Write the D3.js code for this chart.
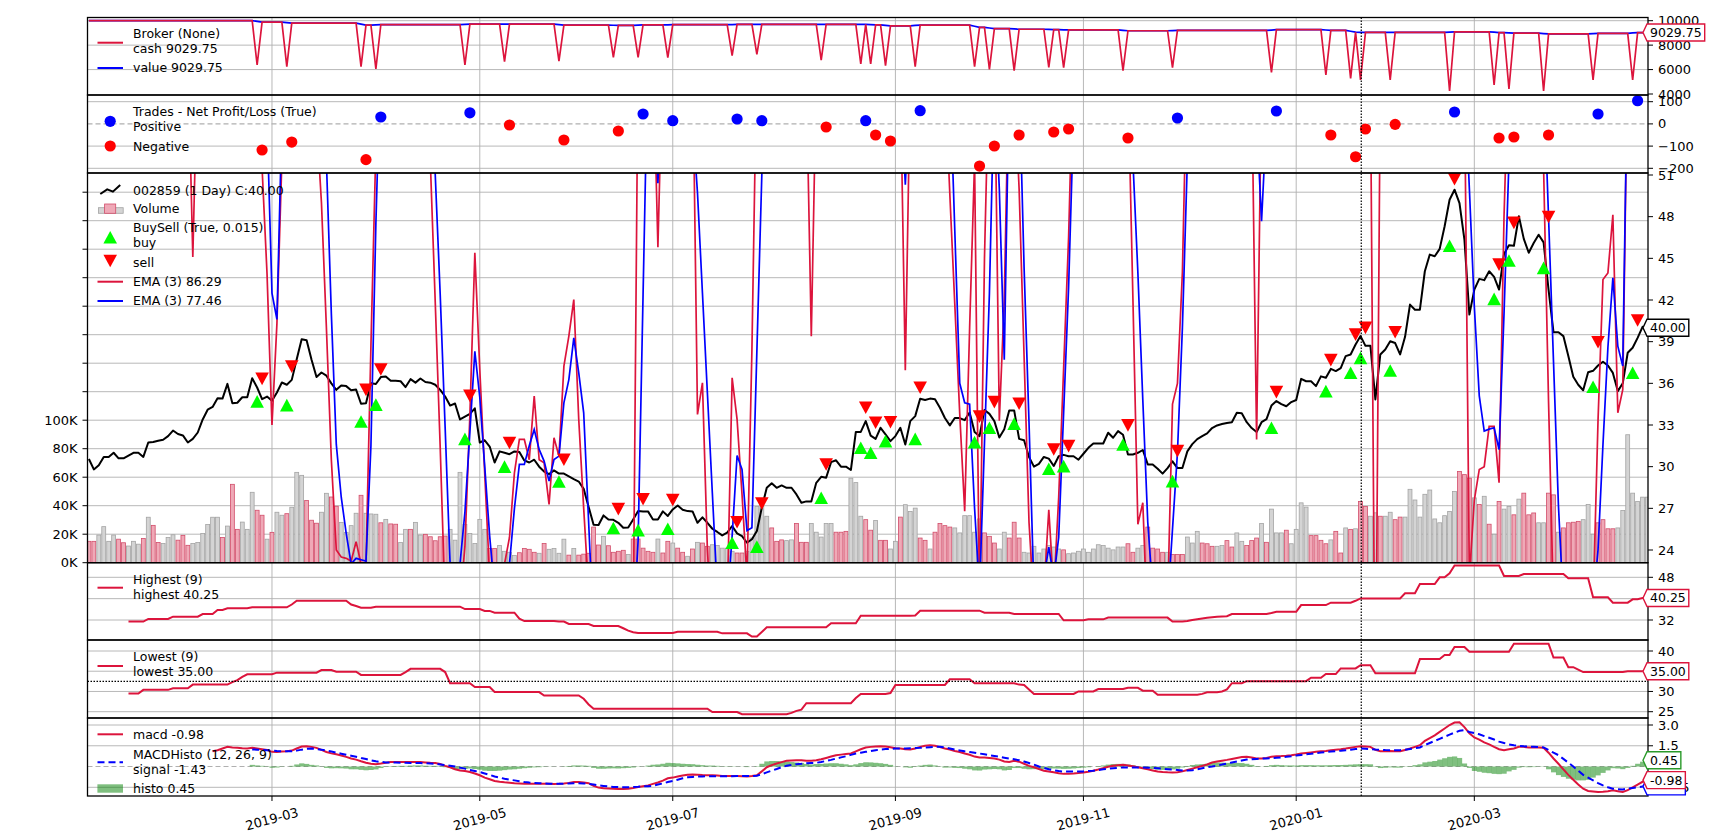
<!DOCTYPE html>
<html>
<head>
<meta charset="utf-8">
<script src="https://cdn.jsdelivr.net/npm/d3@7"></script>
<style>
html,body{margin:0;padding:0;background:#fff;}
svg{display:block;}
text{font-family:"DejaVu Sans",sans-serif;fill:#000;}
</style>
</head>
<body>
<svg id="chart" width="1734" height="838"></svg>
<script>
// ---------------- DATA ----------------
const dateTickIdx = [37,79,118,163,201,244,280];
const dateTickLabel = ['2019-03','2019-05','2019-07','2019-09','2019-11','2020-01','2020-03'];

const closePrice = [
30.55,29.8,30.1,30.7,30.7,31.0,30.6,30.6,30.8,31.0,
31.0,30.7,31.74,31.77,31.86,31.94,32.2,32.6,32.35,32.25,
31.74,32.0,32.46,33.4,34.1,34.3,34.93,34.9,35.96,34.57,
34.6,35.0,35.0,36.37,35.7,34.86,35.05,34.74,35.34,36.06,
35.9,36.25,37.74,39.18,39.1,37.7,36.45,36.78,36.55,36.0,
35.53,35.85,35.8,35.5,35.55,34.53,34.57,36.0,35.95,36.45,
36.5,36.18,36.18,36.15,35.73,36.3,36.05,36.35,36.1,36.05,
35.9,35.53,35.05,34.4,34.55,33.4,33.6,33.8,34.2,31.74,
31.9,31.45,30.3,31.1,31.0,30.9,31.1,31.05,30.45,30.3,
30.5,30.0,29.65,29.46,29.73,29.5,29.5,29.3,29.1,28.93,
28.4,27.1,25.82,25.8,26.49,26.2,26.17,25.96,25.6,25.62,
26.2,26.8,26.78,26.78,26.2,26.2,26.78,26.45,26.92,27.21,
26.9,26.8,26.78,25.96,26.35,25.96,25.53,25.3,25.05,25.25,
25.73,25.2,25.0,24.52,24.77,25.37,27.05,28.48,28.8,28.48,
28.65,28.48,28.48,28.0,27.4,27.5,27.5,28.84,29.27,29.2,
30.33,30.46,30.0,30.0,29.76,32.5,32.5,33.28,32.24,32.0,
32.8,32.33,31.84,32.2,32.8,31.6,33.28,33.64,34.89,34.8,
34.9,34.85,34.24,33.5,32.97,33.5,33.5,33.35,33.9,32.5,
32.2,34.08,33.8,33.28,32.1,32.7,34.05,34.05,32.0,31.9,
30.7,30.0,30.2,30.7,30.58,30.05,30.75,30.85,30.75,30.75,
30.5,30.93,31.36,31.67,31.67,31.67,32.44,32.08,32.56,32.3,
30.88,30.88,31.0,31.2,30.16,30.16,29.85,29.5,29.9,30.38,
29.9,29.9,31.1,31.62,31.98,32.2,32.4,32.78,32.97,33.07,
33.15,33.2,33.88,33.85,33.2,32.78,32.5,33.2,33.42,34.4,
34.72,34.5,34.35,34.65,34.8,36.32,36.15,36.15,35.8,36.5,
36.4,37.04,36.88,37.1,37.96,38.08,38.8,39.4,38.7,38.7,
34.84,38.08,38.44,39.03,38.9,38.08,39.35,41.67,41.3,41.3,
44.07,45.27,45.15,45.68,47.31,49.22,49.94,48.98,46.35,40.95,
42.75,43.52,43.43,44.07,43.67,42.75,45.32,45.94,45.9,48.03,
46.4,45.4,46.1,46.7,46.15,42.75,39.68,39.68,39.4,37.96,
36.47,35.9,35.5,36.8,36.9,37.28,37.56,37.28,36.75,35.44,
36.0,38.2,38.56,39.27,40.07,40.0];

// volume in thousands
const volumeK = [
15,15,19.4,25.3,15,19.4,16.5,14,11.7,15,
13,17,31.9,26.2,14.2,13.5,17.7,19.6,15.8,19.2,
12.2,13.5,14.2,20.5,26.8,31.9,31.9,17.7,25.7,55,
23.4,28.5,23.4,49.4,36.8,33.3,16.5,21.3,35.4,33.3,
34.4,38.9,63.4,61.3,43.6,29.8,27.7,35.4,48.7,46.1,
39.6,28.3,21.3,26,34.7,47.3,34.7,34.2,34,28,
30.4,27.2,27,14.2,23.4,23.4,28.3,19.4,19.9,18.2,
15.4,18.2,18.7,23.4,15.8,63.4,26.8,20.5,13.5,30.4,
23.4,10,10,12,8,7.3,5,7,10,9.4,
7.3,6.6,13.5,9.4,10,6.6,16.5,5.3,10,5.3,
6,6.6,25,12.4,18.5,11.9,7.3,8,8.7,5.7,
16.6,16.6,10.2,8,7.3,16.6,6.8,15,13.8,10.2,
7.3,4.5,9.6,14.3,13.8,11.5,12.6,12,10.2,10.2,
8,6.8,6.8,8,17.3,39.5,43,32.6,24.4,15,
16,15.5,16,27.5,14.3,14.3,27.5,21.4,18,27.5,
27.5,21.4,21.4,22,59.3,56.2,32.6,30.2,22.8,29.6,
15.7,15.7,9.6,15,32,40.7,36,38.3,17.3,15.7,
9.6,21.4,27.5,26,25,24.4,20.9,33,33,21.4,
30.7,20.9,18.5,13.8,9.6,21.4,17.3,28.4,17.3,7.3,
6.8,11.5,6.8,9.6,12,11,9.6,9,6.3,6.8,
8,9.6,7.3,9.6,12.6,12,10.2,9,11,11,
13.3,7.3,10.2,12,25,10.2,9.6,7.3,7.3,5.7,
5.7,5.7,18,13.8,22,13.8,13.3,11.5,11.5,12,
15.5,11,20.9,15,12,15.5,17.3,27.5,14.3,37.6,
20.9,20.9,22.8,13.3,23.4,42,39,19,19,15.7,
13.3,16,22,6.8,24.4,23.4,23.8,43,39.5,32.6,
35,32.6,32.6,35.4,30.2,32,32,51.5,44,32,
48,51,30.7,28,33,36,50,64,61.8,59.3,
45.5,40.9,46.6,27,20,43,37.6,39.5,33.6,44.6,
48.8,33.6,34.9,28,28,48.8,47.6,21.4,24.4,28,
28.4,29,30.2,40.9,20,28,30.2,23.8,23.8,24.4,
36.6,89.8,48.8,43,46,46];

// bar direction: u = up (grey), d = down (pink)
const volDir =
"dduuuudduu"+"ududduuudd"+"duuuuuudud"+"duuudduduu"+"duuuddduud"+
"duuuuduuud"+"udduuduudd"+"ddduuuuuuu"+"udduuuuddd"+"duduuuudud"+
"dddduddddu"+"ddddduddud"+"dududduuuu"+"udduuuuudd"+"duuddduuuu"+
"uddduuuddu"+"dduuduuudd"+"udddduuuuu"+"uddduudddu"+"uuuuuuuduu"+
"uuuuuuuuuu"+"dduuddddud"+"dduuuddduu"+"dduudddudu"+"uuduuuuddd"+
"duddududdu"+"uduudduuuu"+"uuuuuuuddd"+"udududuudu"+"ddduuddudd"+
"dduuuddddu"+"uuuuuu";

const emaRed = [
65,65,65,65,65,65,65,65,65,65,
65,65,65,65,65,65,65,65,65,65,
60,45.1,60,65,65,65,65,65,65,65,
65,65,65,65,65,51.5,43.9,33.0,40.3,52,
65,65,65,65,65,65,55,49,40,30.5,
24.0,23.5,23.4,23.2,24.6,23.0,23.0,38.7,53,65,
65,65,65,65,65,65,65,65,65,52,
41.8,31.4,20,18,18,20,24.3,33.7,45.4,37,
29.5,22,18,20,23.0,24.9,29.56,31.96,31.96,30.5,
35.08,30.5,30.28,27.28,32.08,30.76,37.24,39.4,42.03,33.4,
27.0,21,18,18,18,18,18,18,18,18,
18,60,65,65,60,45.8,60,65,65,65,
65,65,60,33.76,36.04,24,18,18,18,20,
36.4,33.4,28,22,38.4,60,65,65,65,65,
65,65,65,65,65,58,39.4,58,65,65,
65,65,65,65,65,65,65,65,65,65,
65,65,65,65,58,36.95,58,65,65,65,
65,65,65,58,49.6,41.7,33.8,26.8,40,52,
20,45,60,60,33.3,42,60,58,50,38,
26,20,19,21,26.9,21,27.8,37.1,46.5,60,
65,65,65,65,65,65,65,65,65,65,
58,42.1,25.85,27.4,18,16,16,18,20,34.5,
36,44,60,65,65,65,65,65,65,65,
65,65,65,65,65,58,31.96,58,65,65,
65,65,65,65,65,65,65,65,65,65,
65,65,65,65,65,65,65,65,65,58,
10,58,65,65,65,65,65,65,65,65,
65,65,65,65,65,65,65,65,58,22,
27.6,29.8,30.0,32.9,32.9,28.84,48,60,65,65,
65,65,65,60,51.5,34.7,20,16,16,16,
16,16,16,16,20,33.3,43.47,43.95,48.14,33.88,
35.55,60,70,76,82,86.29];

const emaBlue = [
65,65,65,65,65,65,65,65,65,65,
65,65,65,65,65,65,65,65,65,65,
65,65,65,65,65,65,65,65,65,65,
65,65,65,65,65,65,55,42.5,40.6,55,
65,65,65,65,65,65,65,60,52,41,
31.6,27.8,25.2,23.0,23.4,23.3,23.2,31.5,47.5,60,
65,65,65,65,65,65,65,65,65,60,
51,42.4,32.8,23,18,23,26.75,32.5,38.3,35,
30,25,21,18,18,23,27,30.16,30.16,31.5,
32.68,31.24,30.4,28.96,30.52,30.76,34.6,36.27,39.27,36.76,
33.88,26,18,18,18,18,18,18,18,18,
18,24.7,42.4,60,60,50.4,60,65,65,65,
65,65,55,49.7,42.5,35.3,28.1,21,18,20,
25,30.8,29.8,25.4,25.6,38.3,51,60,65,65,
65,65,65,65,65,65,65,65,65,65,
65,65,65,65,65,65,65,65,65,65,
65,65,65,65,58,50.3,58,65,65,65,
65,65,65,65,58,47,36,34.6,34.5,27,
21,31.7,42.5,58,50,37.7,58,60,58,44.4,
33.2,21,19,22,24.2,22,24.9,33.9,42.9,55,
65,65,65,65,65,65,65,65,65,65,
58,52,44,34.8,26,21,18,18,20,25.5,
31,40,52,65,65,65,65,65,65,65,
65,65,65,65,65,65,55,47.67,55,65,
65,65,65,65,65,65,65,65,65,65,
65,65,65,65,65,65,65,65,65,65,
65,65,65,65,65,65,65,65,65,65,
65,65,65,65,65,65,65,65,58,50,
41.55,35.1,32.56,32.7,32.8,31.24,41,52,65,65,
65,65,65,65,58,48,37.6,27.2,20,17,
17,17,17,17,20,24,31.6,38.6,43.6,38.68,
37.24,60,66,70,74,77.46];

// trades (buy bar, sell/close bar, marker prices, net profit/loss)
const buyBars  = [34,40,55,58,76,84,95,106,111,117,130,135,148,156,158,161,167,179,182,187,194,197,209,219,239,250,255,257,263,275,284,287,294,304,312];
const sellBars = [35,41,56,59,77,85,96,107,112,118,131,136,149,157,159,162,168,180,183,188,195,198,210,220,240,251,256,258,264,276,285,288,295,305,313];
const buyMark  = [34.7,34.43,33.25,34.47,32.0,30.0,28.93,25.58,25.43,25.53,24.52,24.24,27.76,31.36,31.0,31.84,32.0,31.77,32.8,33.1,29.85,30.04,31.6,28.96,32.8,35.44,36.76,37.83,36.92,45.91,42.08,44.84,44.31,35.75,36.76];
const sellMark = [36.32,37.2,35.53,37.0,35.1,31.7,30.5,26.94,27.65,27.6,26.0,27.35,30.16,34.24,33.16,33.2,35.68,33.6,34.65,34.53,31.24,31.48,32.97,31.12,35.37,37.67,39.51,39.99,39.68,50.7,44.55,47.55,47.98,38.96,40.52];
const tradePnl = [-117.6,-81.7,-161,31,50,-5,-72.5,-32,44.6,14.4,22,14.4,-14,14.4,-50,-77,59.5,-190,-99.5,-50,-36.5,-23,-63.5,26.6,58,-50,-148,-23,-2,53.6,-63.5,-59,-50,44.6,104.5];

// broker
const startCash = 10000;
const cashAfter = [9883,9801,9640,9671,9721,9716,9644,9612,9657,9671,9693,9707,9693,9707,9657,9580,9640,9450,9350,9300,9264,9241,9177,9204,9262,9212,9064,9041,9039,9093,9029,8975,8925,8965,9029.75];
const dipCash   = [6373,6234,6234,6046,6373,6643,6700,7003,7003,6970,7134,7250,6782,6455,6455,6316,6234,6234,6021,5907,6185,6152,5907,6152,5775,5555,5285,5145,5145,4245,4736,4410,4245,5145,5145];
const dipValue  = [9940,9840,9720,9655,9700,9718,9680,9628,9635,9664,9682,9700,9700,9700,9682,9618,9610,9545,9400,9325,9282,9252,9209,9190,9233,9237,9138,9052,9040,9066,9061,9002,8950,8945,8997];

// Highest(9) / Lowest(9) as [value, number of bars] runs (null = not yet defined)
const highestRuns = [[null,8],[31.4,4],[32.4,5],[33.25,6],[34.25,3],[35.75,2],[36.4,5],[36.75,8],[37.8,1],[39.2,11],[37.8,1],[37.25,1],[36.6,3],[37.0,18],[36.1,4],[35.4,2],[34.75,5],[32.5,1],[31.6,7],[31.4,2],[30.5,5],[29.75,6],[28.9,1],[28.0,1],[27.4,1],[27.1,8],[27.6,9],[27.0,6],[25.8,2],[27.5,1],[29.25,13],[30.75,6],[33.6,11],[33.7,1],[35.5,13],[34.75,6],[34.25,10],[31.9,5],[32.25,4],[32.9,13],[31.4,3],[31.6,1],[32.0,1],[32.3,1],[32.6,1],[32.8,1],[33.0,1],[33.2,1],[33.3,1],[33.4,1],[34.25,8],[34.6,1],[35.1,5],[37.6,6],[38.5,5],[39.2,1],[40.1,9],[42.0,3],[45.5,4],[48.0,2],[49.5,1],[52.4,10],[48.5,4],[49.25,9],[47.6,5],[40.5,4],[38.5,4],[39.75,2],[40.25,2]];
const lowestRuns = [[null,8],[29.5,3],[30.4,6],[30.8,4],[31.7,8],[32.3,1],[32.8,1],[33.6,1],[34.25,6],[34.65,9],[35.3,3],[34.9,5],[34.1,9],[34.8,1],[35.6,7],[34.8,1],[32.05,5],[31.1,4],[29.85,10],[29.0,8],[28.2,1],[26.8,1],[25.75,24],[24.9,6],[24.4,10],[24.7,1],[25.2,1],[25.5,1],[27.1,10],[28.4,1],[29.4,6],[29.6,1],[31.6,11],[33.0,5],[32.05,9],[31.7,1],[31.6,1],[30.5,1],[29.4,9],[30.0,4],[30.6,6],[30.9,3],[30.2,3],[29.2,9],[29.4,1],[29.8,3],[30.0,1],[30.5,1],[32.05,3],[32.55,13],[33.4,3],[34.3,3],[35.7,4],[36.5,3],[34.5,9],[38.0,5],[39.0,2],[41.0,3],[39.8,9],[41.8,8],[38.4,3],[36.0,2],[35.4,1],[34.8,9],[35.0,5]];

// MACD (12,26,9)
const macdStart = 25;
const macdLine = [
1.1,1.18,1.3,1.42,1.38,1.35,1.32,1.3,1.35,1.3,
1.25,1.2,1.06,1.05,1.08,1.1,1.15,1.3,1.45,1.47,
1.42,1.35,1.2,1.05,0.95,0.88,0.8,0.7,0.58,0.5,
0.38,0.28,0.2,0.17,0.22,0.28,0.33,0.33,0.33,0.32,
0.33,0.33,0.33,0.3,0.27,0.25,0.18,0.05,-0.05,-0.2,
-0.28,-0.33,-0.39,-0.5,-0.63,-0.8,-0.92,-1.04,-1.1,-1.14,
-1.17,-1.2,-1.22,-1.24,-1.25,-1.25,-1.25,-1.24,-1.25,-1.26,
-1.25,-1.22,-1.18,-1.12,-1.12,-1.15,-1.2,-1.4,-1.52,-1.56,
-1.58,-1.6,-1.62,-1.62,-1.6,-1.55,-1.48,-1.42,-1.36,-1.25,
-1.15,-1.02,-0.85,-0.8,-0.72,-0.65,-0.6,-0.58,-0.6,-0.62,
-0.63,-0.63,-0.65,-0.68,-0.68,-0.68,-0.68,-0.7,-0.72,-0.68,
-0.63,-0.35,-0.05,0.1,0.22,0.32,0.41,0.44,0.46,0.46,
0.42,0.41,0.45,0.52,0.62,0.72,0.82,0.86,0.9,0.94,
1.1,1.25,1.37,1.42,1.45,1.47,1.45,1.4,1.32,1.3,
1.25,1.23,1.3,1.42,1.5,1.54,1.5,1.4,1.3,1.23,
1.12,1.05,0.94,0.85,0.72,0.65,0.66,0.62,0.58,0.5,
0.36,0.33,0.41,0.35,0.2,0.05,-0.05,-0.18,-0.3,-0.36,
-0.42,-0.48,-0.53,-0.52,-0.5,-0.47,-0.43,-0.38,-0.3,-0.22,
-0.12,-0.02,0.06,0.1,0.12,0.08,0.02,-0.05,-0.12,-0.2,
-0.28,-0.36,-0.4,-0.42,-0.43,-0.41,-0.35,-0.25,-0.15,-0.05,
0.05,0.15,0.29,0.36,0.42,0.48,0.55,0.62,0.68,0.7,
0.65,0.58,0.58,0.62,0.7,0.75,0.76,0.78,0.82,0.87,
0.94,0.98,1.02,1.06,1.1,1.13,1.18,1.22,1.25,1.3,
1.36,1.42,1.47,1.45,1.42,1.2,1.1,1.1,1.12,1.1,
1.1,1.2,1.3,1.42,1.54,1.85,2.05,2.25,2.5,2.75,
3.0,3.18,3.2,2.85,2.4,2.1,1.95,1.75,1.6,1.42,
1.25,1.18,1.25,1.3,1.42,1.42,1.38,1.38,1.38,1.36,
1.0,0.58,0.2,-0.2,-0.6,-0.95,-1.3,-1.6,-1.76,-1.8,
-1.84,-1.82,-1.78,-1.72,-1.78,-1.84,-1.7,-1.5,-1.3,-1.1,
-0.98];
const signalStart = 33;
const signalLine = [
1.23,1.22,1.2,1.18,1.15,1.12,1.1,1.1,1.1,1.15,
1.22,1.28,1.3,1.27,1.22,1.15,1.08,1.0,0.93,0.85,
0.78,0.7,0.62,0.55,0.45,0.38,0.33,0.3,0.3,0.29,
0.28,0.27,0.26,0.25,0.25,0.24,0.22,0.2,0.15,0.1,
0.05,0.0,-0.08,-0.15,-0.25,-0.32,-0.4,-0.5,-0.6,-0.72,
-0.8,-0.88,-0.95,-1.0,-1.06,-1.12,-1.16,-1.19,-1.2,-1.22,
-1.24,-1.25,-1.25,-1.24,-1.22,-1.2,-1.2,-1.22,-1.25,-1.3,
-1.36,-1.4,-1.44,-1.47,-1.48,-1.5,-1.5,-1.48,-1.46,-1.43,
-1.43,-1.38,-1.3,-1.22,-1.12,-1.05,-0.95,-0.85,-0.78,-0.75,
-0.73,-0.72,-0.7,-0.7,-0.7,-0.7,-0.7,-0.7,-0.69,-0.69,
-0.68,-0.68,-0.66,-0.55,-0.42,-0.3,-0.18,-0.05,0.05,0.12,
0.17,0.2,0.24,0.26,0.27,0.33,0.4,0.48,0.58,0.66,
0.74,0.84,0.94,1.0,1.06,1.12,1.18,1.23,1.26,1.28,
1.3,1.3,1.31,1.32,1.33,1.35,1.38,1.4,1.42,1.42,
1.38,1.3,1.22,1.16,1.1,1.05,1.0,0.94,0.88,0.82,
0.76,0.7,0.64,0.58,0.52,0.46,0.36,0.25,0.14,0.0,
-0.1,-0.2,-0.28,-0.33,-0.36,-0.36,-0.36,-0.36,-0.35,-0.33,
-0.3,-0.25,-0.2,-0.16,-0.12,-0.09,-0.07,-0.07,-0.07,-0.07,
-0.07,-0.08,-0.1,-0.13,-0.16,-0.19,-0.22,-0.25,-0.28,-0.29,
-0.26,-0.2,-0.12,-0.05,0.0,0.07,0.14,0.22,0.29,0.36,
0.43,0.5,0.53,0.55,0.57,0.58,0.6,0.63,0.66,0.7,
0.74,0.8,0.84,0.88,0.92,0.97,1.01,1.04,1.08,1.11,
1.14,1.18,1.22,1.26,1.3,1.28,1.26,1.23,1.21,1.19,
1.18,1.18,1.18,1.22,1.27,1.32,1.38,1.55,1.7,1.85,
2.0,2.15,2.3,2.45,2.58,2.63,2.5,2.42,2.33,2.2,
2.08,1.95,1.8,1.7,1.6,1.54,1.5,1.46,1.43,1.42,
1.4,1.38,1.2,1.0,0.82,0.55,0.28,0.0,-0.3,-0.6,
-0.8,-1.0,-1.2,-1.36,-1.5,-1.6,-1.64,-1.65,-1.6,-1.55,
-1.5,-1.45,-1.43];

// right-axis tick values per panel (labels hidden by a value tag in the reference are listed in *Hidden)
const brokerTicks = [4000,6000,8000,10000];
const tradeTicks = [100,0,-100,-200];
const priceTicks = [24,27,30,33,36,39,42,45,48,51];
const highTicks = [32,40,48], highHidden = [40];
const lowTicks = [25,30,35,40], lowHidden = [35];
const macdTicks = [-1.5,0,1.5,3.0], macdHidden = [0];

// cursor position captured in the screenshot
const cursorIdx = 257.15, cursorLowVal = 32.5;

// ---------------- DRAWING ----------------
const N = closePrice.length;
const svg = d3.select('#chart');
svg.append('rect').attr('width',1734).attr('height',838).attr('fill','#fff');

const PL = 87.5, PR = 1648;
const x = d3.scaleLinear().domain([0, N-1]).range([88.9, 1647.5]);
const P = {broker:[17.5,95], trades:[95,173], main:[173,562.7], high:[562.7,640], low:[640,718], macd:[718,796]};
const defs = svg.append('defs');
Object.entries(P).forEach(([k,[t,b]]) => {
  defs.append('clipPath').attr('id','clip-'+k).append('rect')
    .attr('x',PL).attr('y',t).attr('width',PR-PL).attr('height',b-t);
});
const GRID = '#b0b0b0', CRIMSON = '#dc143c', BLUE = '#0000ff';

const yB = d3.scaleLinear().domain([4000,10000]).range([94,20.7]);
const yT = d3.scaleLinear().domain([-200,100]).range([168.3,101.7]);
const yP = d3.scaleLinear().domain([24,51]).range([550,175]);
const yV = d3.scaleLinear().domain([0,260]).range([562.7,192.2]);
const yH = d3.scaleLinear().domain([32,48]).range([620,577.3]);
const yL = d3.scaleLinear().domain([25,40]).range([711.7,651]);
const yM = d3.scaleLinear().domain([-1.5,3]).range([787.3,725]);

const expand = runs => runs.flatMap(([v,n]) => Array(n).fill(v));
const highest = expand(highestRuns);
const lowest = expand(lowestRuns);

const gridG = svg.append('g');
dateTickIdx.forEach(i => {
  gridG.append('line').attr('x1',x(i)).attr('x2',x(i)).attr('y1',P.broker[0]).attr('y2',P.macd[1])
    .attr('stroke',GRID).attr('stroke-width',0.9);
});
function hgrid(vals, scale){
  vals.forEach(v => gridG.append('line').attr('x1',PL).attr('x2',PR).attr('y1',scale(v)).attr('y2',scale(v))
    .attr('stroke',GRID).attr('stroke-width',0.9));
}
hgrid([6000,8000,10000], yB);
hgrid([100,-100,-200], yT);
hgrid(d3.range(20,261,20), yV);
hgrid(highTicks, yH);
hgrid(lowTicks, yL);
hgrid([3.0,1.5,-1.5], yM);
[[yT,0],[yM,0]].forEach(([s,v]) => gridG.append('line').attr('x1',PL).attr('x2',PR).attr('y1',s(v)).attr('y2',s(v))
  .attr('stroke',GRID).attr('stroke-width',1.1).attr('stroke-dasharray','5,3'));

const lineGen = (scale) => d3.line().defined(d => d.v !== null && d.v !== undefined).x(d => x(d.i)).y(d => scale(d.v));
const toPts = (arr, start=0) => arr.map((v,k) => ({i:k+start, v}));

// ---- Broker ----
const cashSeries = [], valueSeries = [];
{
  let level = startCash;
  for (let i = 0; i < N; i++) {
    const si = sellBars.indexOf(i), bi = buyBars.indexOf(i);
    if (si >= 0) level = cashAfter[si];
    if (bi >= 0) { cashSeries.push(dipCash[bi]); valueSeries.push(dipValue[bi]); }
    else { cashSeries.push(level); valueSeries.push(level); }
  }
}
const gB = svg.append('g').attr('clip-path','url(#clip-broker)');
gB.append('path').attr('d', lineGen(yB)(toPts(valueSeries))).attr('fill','none').attr('stroke',BLUE).attr('stroke-width',1.7);
gB.append('path').attr('d', lineGen(yB)(toPts(cashSeries))).attr('fill','none').attr('stroke',CRIMSON).attr('stroke-width',1.7);

// ---- Trades ----
const gT = svg.append('g').attr('clip-path','url(#clip-trades)');
sellBars.forEach((b,k) => {
  gT.append('circle').attr('cx',x(b)).attr('cy',yT(tradePnl[k])).attr('r',5.6)
    .attr('fill', tradePnl[k] >= 0 ? BLUE : '#ff0000');
});

// ---- Main ----
const gM = svg.append('g').attr('clip-path','url(#clip-main)');
const bw = 3.9;
volumeK.forEach((v,i) => {
  const up = volDir[i] === 'u';
  gM.append('rect').attr('x',x(i)-bw/2).attr('width',bw).attr('y',yV(v)).attr('height',yV(0)-yV(v))
    .attr('fill', up ? '#d4d4d4' : '#efa9b7').attr('stroke', up ? '#a3a3a3' : '#d24d6a').attr('stroke-width',0.8);
});
gM.append('path').attr('d', lineGen(yP)(toPts(closePrice))).attr('fill','none').attr('stroke','#000').attr('stroke-width',2).attr('stroke-linejoin','round');
gM.append('path').attr('d', lineGen(yP)(toPts(emaRed))).attr('fill','none').attr('stroke',CRIMSON).attr('stroke-width',1.7);
gM.append('path').attr('d', lineGen(yP)(toPts(emaBlue))).attr('fill','none').attr('stroke',BLUE).attr('stroke-width',1.7);
const tri = (cx,cy,up) => up
  ? `M${cx},${cy-6.3}L${cx+6.8},${cy+6.3}L${cx-6.8},${cy+6.3}Z`
  : `M${cx},${cy+6.3}L${cx+6.8},${cy-6.3}L${cx-6.8},${cy-6.3}Z`;
buyBars.forEach((b,k) => gM.append('path').attr('d', tri(x(b), yP(buyMark[k]), true)).attr('fill','#00ff00'));
sellBars.forEach((b,k) => gM.append('path').attr('d', tri(x(b), yP(sellMark[k]), false)).attr('fill','#ff0000'));

// ---- Highest / Lowest ----
const gH = svg.append('g').attr('clip-path','url(#clip-high)');
gH.append('path').attr('d', lineGen(yH)(toPts(highest))).attr('fill','none').attr('stroke',CRIMSON).attr('stroke-width',2);
const gLo = svg.append('g').attr('clip-path','url(#clip-low)');
gLo.append('path').attr('d', lineGen(yL)(toPts(lowest))).attr('fill','none').attr('stroke',CRIMSON).attr('stroke-width',2);

// ---- MACD ----
const gMa = svg.append('g').attr('clip-path','url(#clip-macd)');
const hw = x(1)-x(0);
signalLine.forEach((s,k) => {
  const i = k + signalStart;
  const h = macdLine[i - macdStart] - s;
  gMa.append('rect').attr('x', x(i)-hw/2).attr('width', hw+0.2)
    .attr('y', Math.min(yM(0), yM(h))).attr('height', Math.abs(yM(h)-yM(0)))
    .attr('fill','rgba(0,128,0,0.5)');
});
gMa.append('path').attr('d', lineGen(yM)(toPts(macdLine, macdStart))).attr('fill','none').attr('stroke',CRIMSON).attr('stroke-width',2);
gMa.append('path').attr('d', lineGen(yM)(toPts(signalLine, signalStart))).attr('fill','none').attr('stroke',BLUE).attr('stroke-width',2).attr('stroke-dasharray','7,4');

// ---- Borders ----
Object.values(P).forEach(([t,b]) => {
  svg.append('rect').attr('x',PL).attr('y',t).attr('width',PR-PL).attr('height',b-t)
    .attr('fill','none').attr('stroke','#000').attr('stroke-width',1.3);
});

// ---- Axes ----
const axG = svg.append('g');
function rightTicks(vals, scale, fmt, hidden=[]){
  vals.forEach(v => {
    const yy = scale(v);
    axG.append('line').attr('x1',PR).attr('x2',PR+5).attr('y1',yy).attr('y2',yy).attr('stroke','#000').attr('stroke-width',1);
    if (!hidden.includes(v))
      axG.append('text').attr('x',PR+10).attr('y',yy).attr('dominant-baseline','central').attr('font-size',13).text(fmt(v));
  });
}
const minus = s => String(s).replace('-','\u2212');
rightTicks(brokerTicks, yB, v => String(v));
rightTicks(tradeTicks, yT, v => minus(v));
rightTicks(priceTicks, yP, v => String(v));
rightTicks(highTicks, yH, v => String(v), highHidden);
rightTicks(lowTicks, yL, v => String(v), lowHidden);
rightTicks(macdTicks, yM, v => minus(v.toFixed(1)), macdHidden);
d3.range(0,261,20).forEach(v => {
  const yy = yV(v);
  axG.append('line').attr('x1',PL-5).attr('x2',PL).attr('y1',yy).attr('y2',yy).attr('stroke','#000').attr('stroke-width',1);
  if (v <= 100) axG.append('text').attr('x',PL-10).attr('y',yy).attr('text-anchor','end').attr('dominant-baseline','central').attr('font-size',13).text(v+'K');
});
dateTickIdx.forEach((i,k) => {
  const xx = x(i);
  axG.append('line').attr('x1',xx).attr('x2',xx).attr('y1',P.macd[1]).attr('y2',P.macd[1]+5).attr('stroke','#000').attr('stroke-width',1);
  axG.append('text').attr('x',xx).attr('y',819).attr('text-anchor','middle').attr('dominant-baseline','central')
    .attr('font-size',13).attr('transform',`rotate(-15,${xx},819)`).text(dateTickLabel[k]);
});

// ---- Legends ----
const lg = svg.append('g');
const LX0 = 97.5, LX1 = 123, TX = 133, FS = 12.5;
const ltext = (y, s) => lg.append('text').attr('x',TX).attr('y',y).attr('dominant-baseline','central').attr('font-size',FS).text(s);
const lline = (y, c, dash) => { const l = lg.append('line').attr('x1',LX0).attr('x2',LX1).attr('y1',y).attr('y2',y).attr('stroke',c).attr('stroke-width',2); if (dash) l.attr('stroke-dasharray',dash); };
const fmt2 = v => v.toFixed(2);
lline(42.7, CRIMSON); ltext(33.7,'Broker (None)'); ltext(48.7,'cash ' + fmt2(cashSeries[N-1]));
lline(68, BLUE); ltext(67.7,'value ' + fmt2(valueSeries[N-1]));
lg.append('circle').attr('cx',110.2).attr('cy',121.3).attr('r',5.6).attr('fill',BLUE);
ltext(111.7,'Trades - Net Profit/Loss (True)'); ltext(126.7,'Positive');
lg.append('circle').attr('cx',110.2).attr('cy',146).attr('r',5.6).attr('fill','#ff0000');
ltext(146,'Negative');
lg.append('path').attr('d','M100.3,194L107.2,189.3L112.9,191.7L120.2,185').attr('fill','none').attr('stroke','#000').attr('stroke-width',2);
ltext(190,'002859 (1 Day) C:' + fmt2(closePrice[N-1]));
lg.append('rect').attr('x',98.4).attr('y',207.7).attr('width',24.8).attr('height',5.6).attr('fill','#d4d4d4').attr('stroke','#a3a3a3').attr('stroke-width',0.8);
lg.append('rect').attr('x',104.6).attr('y',204).attr('width',11.1).attr('height',9.3).attr('fill','#efa9b7').attr('stroke','#d24d6a').attr('stroke-width',0.8);
ltext(208.7,'Volume');
ltext(227.7,'BuySell (True, 0.015)'); ltext(242.7,'buy');
lg.append('path').attr('d', tri(110.2,237.3,true)).attr('fill','#00ff00');
lg.append('path').attr('d', tri(110.2,261,false)).attr('fill','#ff0000');
ltext(262,'sell');
lline(281.7, CRIMSON); ltext(281.7,'EMA (3) ' + fmt2(emaRed[N-1]));
lline(301, BLUE); ltext(300.7,'EMA (3) ' + fmt2(emaBlue[N-1]));
lline(587.7, CRIMSON); ltext(579.3,'Highest (9)'); ltext(594.7,'highest ' + fmt2(highest[N-1]));
lline(666, CRIMSON); ltext(656.3,'Lowest (9)'); ltext(671.7,'lowest ' + fmt2(lowest[N-1]));
const lastMacd = macdLine[macdLine.length-1], lastSig = signalLine[signalLine.length-1];
const lastHist = lastMacd - lastSig;
lline(734.3, CRIMSON); ltext(734.3,'macd ' + fmt2(lastMacd));
lline(762.3, BLUE, '7,4'); ltext(754.3,'MACDHisto (12, 26, 9)'); ltext(769.7,'signal ' + fmt2(lastSig));
lg.append('rect').attr('x',97.4).attr('y',784.3).attr('width',25.6).attr('height',8.4).attr('fill','rgba(0,128,0,0.5)');
ltext(788.3,'histo ' + fmt2(lastHist));

// ---- Cursor (dotted) ----
svg.append('line').attr('x1',x(cursorIdx)).attr('x2',x(cursorIdx)).attr('y1',P.broker[0]).attr('y2',P.macd[1])
  .attr('stroke','#000').attr('stroke-width',1.2).attr('stroke-dasharray','1.5,1.5');
svg.append('line').attr('x1',PL).attr('x2',PR).attr('y1',yL(cursorLowVal)).attr('y2',yL(cursorLowVal))
  .attr('stroke','#000').attr('stroke-width',1.2).attr('stroke-dasharray','1.5,1.5');

// ---- Value tags on the right ----
function tag(yy, label, color, showText=true){
  const g = svg.append('g');
  const p = g.append('path');
  const t = g.append('text').attr('x',1650).attr('y',yy).attr('dominant-baseline','central').attr('font-size',12.5).text(label);
  const w = t.node().getComputedTextLength();
  if (!showText) t.remove();
  p.attr('d',`M1643,${yy}L1647,${yy-8.5}L${1653+w},${yy-8.5}L${1653+w},${yy+8.5}L1647,${yy+8.5}Z`)
    .attr('fill','#fff').attr('stroke',color).attr('stroke-width',1.4);
}
tag(yB(cashSeries[N-1]), fmt2(cashSeries[N-1]), CRIMSON);
tag(yP(closePrice[N-1]), fmt2(closePrice[N-1]), '#000');
tag(yH(highest[N-1]), fmt2(highest[N-1]), CRIMSON);
tag(yL(lowest[N-1]), fmt2(lowest[N-1]), CRIMSON);
tag(yM(lastSig), fmt2(lastSig), BLUE, false);
tag(yM(lastMacd), fmt2(lastMacd), CRIMSON);
tag(yM(lastHist), fmt2(lastHist), '#2a9a2a');
</script>
</body>
</html>
